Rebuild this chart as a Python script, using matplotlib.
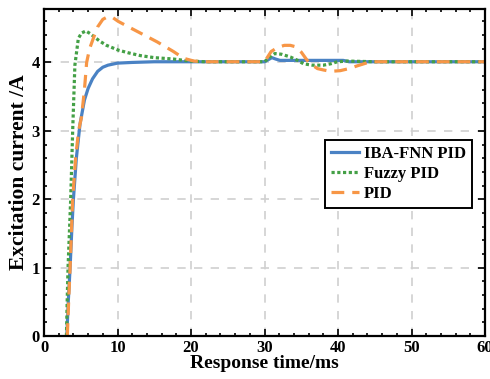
import numpy as np
import matplotlib.pyplot as plt
from matplotlib.ticker import MultipleLocator

plt.rcParams['font.family'] = ['Liberation Serif', 'DejaVu Serif']
plt.rcParams['font.weight'] = 'bold'

# values
t_iba = [3.1, 3.3, 3.55, 3.8, 4.0, 4.4, 4.9, 5.5, 6.0, 6.6, 7.3, 8.0, 8.7, 10.0, 12.0,
         15.0, 20.0, 25.0, 30.0, 30.5, 31.0, 31.5, 32.1, 35.0, 40.0, 40.7, 41.5, 50.0, 60.0]
y_iba = [0.0, 0.5, 1.0, 1.6, 2.0, 2.6, 3.1, 3.45, 3.62, 3.76, 3.87, 3.93, 3.96, 3.99, 4.0,
         4.01, 4.01, 4.01, 4.01, 4.04, 4.07, 4.05, 4.03, 4.03, 4.03, 4.03, 4.01, 4.01, 4.01]

t_fuzzy = [3.05, 3.15, 3.27, 3.45, 3.63, 3.9, 4.2, 4.67, 5.1, 5.7, 6.3, 7.0, 7.6, 8.5, 10.1,
           11.5, 13.1, 15.0, 17.6, 19.8, 22.0, 25.0, 30.0, 30.7, 31.4, 32.3, 33.5, 34.5, 35.3,
           36.5, 38.0, 39.0, 39.9, 41.3, 45.0, 50.0, 60.0]
y_fuzzy = [0.0, 0.5, 1.0, 1.5, 2.0, 3.0, 3.96, 4.35, 4.43, 4.46, 4.42, 4.36, 4.31, 4.25, 4.18,
           4.14, 4.10, 4.07, 4.05, 4.02, 4.01, 4.01, 4.01, 4.08, 4.13, 4.12, 4.08, 4.03, 3.98,
           3.96, 3.96, 3.98, 4.01, 4.02, 4.01, 4.01, 4.01]

t_pid = [3.17, 3.35, 3.55, 3.9, 4.3, 4.7, 5.1, 5.5, 5.8, 6.2, 6.7, 7.3, 8.0, 8.7, 9.3, 10.1,
         11.5, 13.1, 15.4, 17.6, 19.0, 20.4, 22.0, 25.0, 30.0, 30.9, 31.8, 32.7, 33.5, 34.2,
         35.0, 35.8, 36.5, 37.2, 38.0, 39.0, 40.3, 41.5, 42.6, 43.5, 44.4, 47.0, 50.0, 60.0]
y_pid = [0.0, 0.5, 1.0, 2.0, 2.6, 3.0, 3.2, 3.6, 4.0, 4.2, 4.35, 4.52, 4.63, 4.67, 4.66, 4.6,
         4.52, 4.43, 4.30, 4.16, 4.06, 4.02, 4.01, 4.01, 4.01, 4.16, 4.22, 4.25, 4.25, 4.23,
         4.15, 4.03, 3.96, 3.91, 3.89, 3.87, 3.88, 3.91, 3.95, 3.98, 4.01, 4.01, 4.01, 4.01]

labels = ['IBA-FNN PID', 'Fuzzy PID', 'PID']

fig = plt.figure(figsize=(4.9, 3.79), dpi=100)
ax = fig.add_axes([0.0898, 0.1135, 0.9002, 0.8625])

ax.plot(t_iba, y_iba, color='#4a82c4', lw=2.3, label=labels[0])
ax.plot(t_fuzzy, y_fuzzy, color='#44a046', lw=2.3, ls=(0, (1, 0.8)), label=labels[1])
ax.plot(t_pid, y_pid, color='#f79646', lw=2.3, ls=(0, (4, 2.5)), label=labels[2])

ax.set_xlim(0, 60)
ax.set_ylim(0, 4.78)
ax.set_xticks([0, 10, 20, 30, 40, 50, 60])
ax.set_yticks([0, 1, 2, 3, 4])
ax.xaxis.set_minor_locator(MultipleLocator(2))
ax.yaxis.set_minor_locator(MultipleLocator(0.2))
ax.tick_params(which='both', direction='in', top=True, right=True, labelsize=12, width=1.2)
ax.tick_params(which='major', length=5, pad=3)
ax.tick_params(which='minor', length=2.5)
for s in ax.spines.values():
    s.set_linewidth(1.6)

ax.grid(True, color='#d0d0d0', ls=(0, (5, 5)), lw=1.2)

ax.set_xlabel('Response time/ms', fontsize=14, fontweight='bold', labelpad=-1)
ax.set_ylabel('Excitation current /A', fontsize=15.5, fontweight='bold', labelpad=2)

leg = ax.legend(loc='upper right', bbox_to_anchor=(0.97, 0.60), fontsize=12, fancybox=False,
                edgecolor='black', framealpha=1, handlelength=1.7, handletextpad=0.3,
                borderpad=0.35, labelspacing=0.25, borderaxespad=0)
leg.get_frame().set_linewidth(1.4)

plt.savefig('out.png', dpi=100)
